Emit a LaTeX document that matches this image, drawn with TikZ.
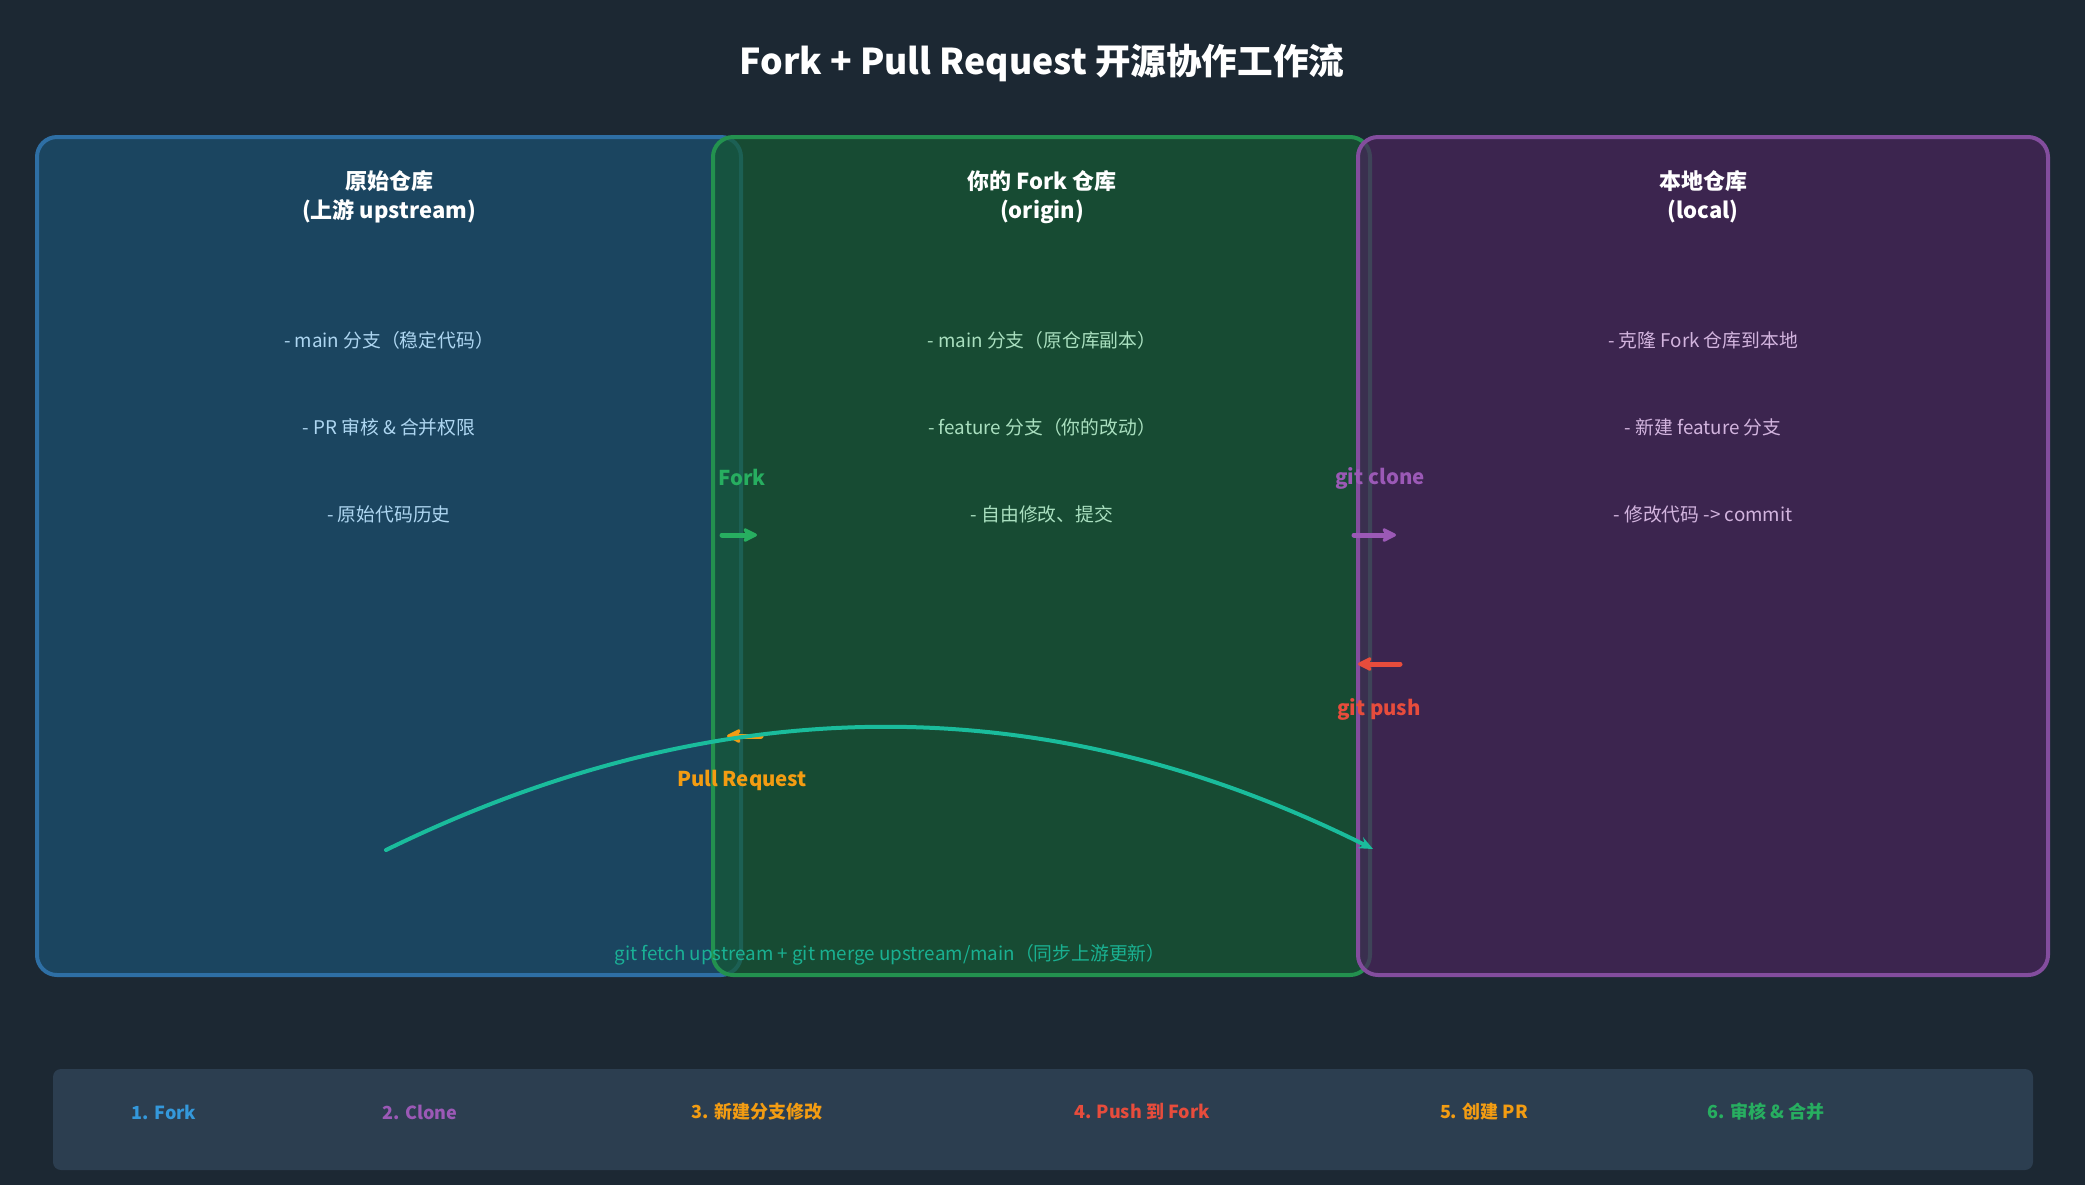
\documentclass[tikz,border=0pt]{standalone}
\usepackage{fontspec}
\setmainfont{Noto Sans CJK SC}
\usetikzlibrary{arrows.meta}
\definecolor{bg}{HTML}{1C2833}
\definecolor{bara}{HTML}{2C3E50}
\definecolor{bluefill}{HTML}{1B4560}
\definecolor{blueline}{HTML}{2E6FA5}
\definecolor{greenfill}{HTML}{155A33}
\definecolor{greenline}{HTML}{23914F}
\definecolor{purplefill}{HTML}{4A245C}
\definecolor{purpleline}{HTML}{834D9E}
\definecolor{cblue}{HTML}{3498DB}
\definecolor{cgreen}{HTML}{27AE60}
\definecolor{cpurple}{HTML}{9B59B6}
\definecolor{corange}{HTML}{F39C12}
\definecolor{cred}{HTML}{E74C3C}
\definecolor{cteal}{HTML}{1ABC9C}
\definecolor{itblue}{HTML}{AED6F1}
\definecolor{itgreen}{HTML}{A9DFBF}
\definecolor{itpurple}{HTML}{D2B4DE}
\tikzset{
  repobox/.style={line width=2pt, rounded corners=10pt, fill opacity=0.7},
  boxtitle/.style={text=white, font=\fontsize{11}{14.5}\selectfont\bfseries, align=center},
  item/.style={font=\fontsize{9.4}{11}\selectfont},
  arrlabel/.style={font=\fontsize{10.2}{12}\selectfont\bfseries},
  flowarrow/.style={line width=2.5pt, line cap=round, -{Stealth[length=9pt,width=9pt,round]}},
  steplabel/.style={font=\fontsize{9}{11}\selectfont\bfseries},
}
\begin{document}
\begin{tikzpicture}[x=0.5pt,y=-0.5pt]
\useasboundingbox (0,0) rectangle (2085,1185);
\fill[bg] (0,0) rectangle (2085,1185);

\node[text=white, font=\fontsize{17.8}{22}\selectfont\bfseries] (title) at (1042,63) {Fork + Pull Request 开源协作工作流};

% boxes
\draw[repobox, fill opacity=1, draw=blueline, fill=bluefill] (37,137) rectangle (741,975);
\draw[repobox, draw=greenline, fill=greenfill] (713,137) rectangle (1370,975);
\draw[repobox, draw=purpleline, fill=purplefill] (1358,137) rectangle (2048,975);

% titles
\node[boxtitle] (t1) at (389,197) {原始仓库\\(上游 upstream)};
\node[boxtitle] (t2) at (1042,197) {你的 Fork 仓库\\(origin)};
\node[boxtitle] (t3) at (1703,197) {本地仓库\\(local)};

% items
\node[item, text=itblue] (a1) at (389,340) {- main 分支（稳定代码）};
\node[item, text=itblue] (a2) at (389,427) {- PR 审核 \& 合并权限};
\node[item, text=itblue] (a3) at (389,514) {- 原始代码历史};
\node[item, text=itgreen] (b1) at (1042,340) {- main 分支（原仓库副本）};
\node[item, text=itgreen] (b2) at (1042,427) {- feature 分支（你的改动）};
\node[item, text=itgreen] (b3) at (1042,514) {- 自由修改、提交};
\node[item, text=itpurple] (c1) at (1703,340) {- 克隆 Fork 仓库到本地};
\node[item, text=itpurple] (c2) at (1703,427) {- 新建 feature 分支};
\node[item, text=itpurple] (c3) at (1703,514) {- 修改代码 -> commit};

% short arrows
\coordinate (forkS) at (722,535);
\coordinate (forkE) at (757,535);
\coordinate (cloneS) at (1354,535);
\coordinate (cloneE) at (1396,535);
\coordinate (pushS) at (1400,664);
\coordinate (pushE) at (1358,664);
\coordinate (prS) at (761,736);
\coordinate (prE) at (727,736);
\draw[flowarrow, cgreen] (forkS) -- (forkE);
\draw[flowarrow, cpurple] (cloneS) -- (cloneE);
\draw[flowarrow, cred] (pushS) -- (pushE);
\draw[flowarrow, corange] (prS) -- (prE);

\node[arrlabel, text=cgreen] (lfork) at (742,477) {Fork};
\node[arrlabel, text=cpurple] (lclone) at (1380,478) {git clone};
\node[arrlabel, text=cred] (lpush) at (1379,709) {git push};
\node[arrlabel, text=corange] (lpr) at (742,780) {Pull Request};

% sync curve
\coordinate (syncS) at (386,850);
\coordinate (syncE) at (1373,849);
\draw[cteal, line width=2pt, line cap=round, -{Stealth[length=7pt,width=6pt]}]
  (syncS) .. controls (719,687) and (1047,686) .. (syncE);
\node[item, text=cteal, opacity=0.9] (sync) at (890,955) {git fetch upstream + git merge upstream/main（同步上游更新）};

% bottom bar
\fill[bara, rounded corners=4pt] (53,1069) rectangle (2033,1170);
\node[steplabel, text=cblue] (s1) at (164,1112) {1. Fork};
\node[steplabel, text=cpurple] (s2) at (420,1112) {2. Clone};
\node[steplabel, text=corange] (s3) at (757,1112) {3. 新建分支修改};
\node[steplabel, text=cred] (s4) at (1142,1112) {4. Push 到 Fork};
\node[steplabel, text=corange] (s5) at (1484,1112) {5. 创建 PR};
\node[steplabel, text=cgreen] (s6) at (1766,1112) {6. 审核 \& 合并};
\end{tikzpicture}
\end{document}
